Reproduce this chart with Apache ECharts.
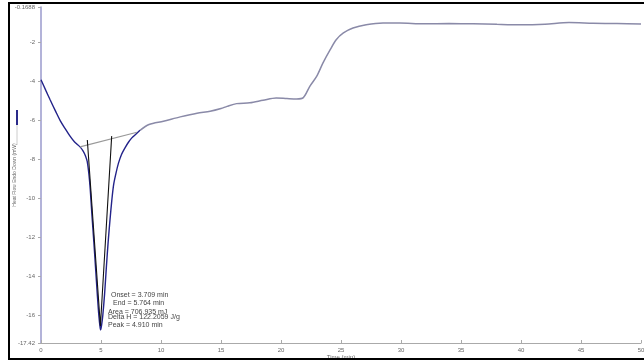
<!DOCTYPE html>
<html>
<head>
<meta charset="utf-8">
<script src="https://cdn.jsdelivr.net/npm/echarts@6/dist/echarts.min.js"></script>
<style>html,body{margin:0;padding:0;background:#fff;}#c{width:644px;height:360px;}</style>
</head>
<body>
<div id="c"></div>
<script>
// Heat flow curve: time (min) and heat flow (mW)
const curveTime = [0, 0.4, 0.75, 1.2, 1.6, 2.0, 2.42, 2.8, 3.25, 3.5, 3.7, 3.85, 4.0, 4.1, 4.25, 4.4, 4.55, 4.7, 4.82, 4.92, 4.97, 5.05, 5.15, 5.3, 5.45, 5.6, 5.75, 5.9, 6.05, 6.25, 6.45, 6.7, 7.0, 7.3, 7.55, 7.9, 8.25];
const curveFlow = [-3.9, -4.45, -4.92, -5.5, -6.0, -6.4, -6.8, -7.1, -7.35, -7.55, -7.8, -8.1, -8.8, -9.5, -10.9, -12.2, -13.6, -15.0, -16.0, -16.6, -16.75, -16.5, -16.0, -14.9, -13.5, -12.2, -11.1, -10.1, -9.3, -8.7, -8.2, -7.75, -7.4, -7.1, -6.9, -6.7, -6.5];
const restTime = [8.25, 9.0, 10.2, 11.6, 13.0, 14.1, 15.0, 15.5, 16.3, 17.4, 18.5, 19.6, 20.5, 21.3, 21.86, 22.4, 22.97, 23.5, 24.1, 24.6, 25.2, 26.0, 27.1, 28.5, 29.9, 31.9, 34, 36, 38, 40, 42, 44, 46, 48, 50];
const restFlow = [-6.5, -6.2, -6.03, -5.81, -5.62, -5.52, -5.38, -5.27, -5.13, -5.09, -4.96, -4.84, -4.87, -4.89, -4.82, -4.24, -3.73, -3.04, -2.36, -1.85, -1.5, -1.25, -1.08, -0.99, -0.99, -1.03, -1.02, -1.03, -1.06, -1.08, -1.05, -0.97, -1.0, -1.02, -1.04];
// Peak integration baseline and tangent lines
const baseTime = [3.25, 8.0];
const baseFlow = [-7.35, -6.6];
const tangentTime = [3.86, 4.95, 5.89];
const tangentFlow = [-7.0, -16.55, -6.8];
// Axis ticks
const yTicks = [-17.42, -16, -14, -12, -10, -8, -6, -4, -2, -0.1688];
const xMin = 0, xMax = 50, xStep = 5;
const yName = 'Heat Flow Endo Down (mW)';
const xName = 'Time (min)';
const annot = ['Onset = 3.709 min', 'End = 5.764 min', 'Area = 706.935 mJ', 'Delta H = 122.2059 J/g', 'Peak = 4.910 min'];

const zip = (a, b) => a.map((v, i) => [v, b[i]]);

const chart = echarts.init(document.getElementById('c'), null, {renderer: 'canvas'});
const FF = 'Liberation Sans, Arial, sans-serif';
const lbl = {fontSize: 6, color: '#666', fontFamily: FF};
const txt = (x, y, s) => ({type: 'text', left: x, top: y, style: {text: s, fontSize: 7, fill: '#444', fontFamily: FF}});
chart.setOption({
  animation: false,
  backgroundColor: '#fff',
  grid: {left: 41, right: 3, top: 7, bottom: 17, containLabel: false, outerBoundsMode: 'none'},
  xAxis: {
    type: 'value', min: xMin, max: xMax, interval: xStep,
    name: xName, nameLocation: 'middle', nameGap: 11, nameMoveOverlap: false,
    nameTextStyle: Object.assign({}, lbl, {fontSize: 6}),
    axisLine: {show: true, lineStyle: {color: '#aaa', width: 1}},
    axisTick: {show: true, inside: true, length: 3, lineStyle: {color: '#aaa'}},
    axisLabel: Object.assign({}, lbl, {margin: 4}),
    splitLine: {show: false}
  },
  yAxis: {
    type: 'value', min: yTicks[0], max: yTicks[yTicks.length - 1],
    name: yName, nameLocation: 'middle', nameGap: 24, nameRotate: 90, nameMoveOverlap: false,
    nameTextStyle: Object.assign({}, lbl, {fontSize: 5}),
    axisLine: {show: true, onZero: false, lineStyle: {color: '#9a9acc', width: 1.5}},
    axisTick: {show: true, length: 3, customValues: yTicks, lineStyle: {color: '#aaa'}},
    axisLabel: Object.assign({}, lbl, {margin: 6, customValues: yTicks,
      formatter: v => { const f = yTicks.find(t => Math.abs(t - v) < 1e-6); return f === undefined ? '' : String(f); }}),
    splitLine: {show: false}
  },
  series: [
    {type: 'line', data: zip(restTime, restFlow), showSymbol: false, smooth: 0.3,
     lineStyle: {color: '#8a8aa8', width: 1.5}, z: 2},
    {type: 'line', data: zip(curveTime, curveFlow), showSymbol: false, smooth: 0.3,
     lineStyle: {color: '#23238a', width: 1.4}, z: 3},
    {type: 'line', data: zip(baseTime, baseFlow), showSymbol: false,
     lineStyle: {color: '#999', width: 1.2}, z: 4},
    {type: 'line', data: zip(tangentTime, tangentFlow), showSymbol: false,
     lineStyle: {color: '#111', width: 1.1}, z: 5}
  ],
  graphic: [
    {type: 'rect', shape: {x: 9, y: 3, width: 640, height: 356}, style: {fill: 'none', stroke: '#000', lineWidth: 2}, z: 100},
    {type: 'line', shape: {x1: 17, y1: 110, x2: 17, y2: 125}, style: {stroke: '#2a2a8a', lineWidth: 2}},
    {type: 'line', shape: {x1: 17, y1: 125, x2: 17, y2: 145}, style: {stroke: '#ccc', lineWidth: 1}},
    txt(111, 292, annot[0]),
    txt(113, 300, annot[1]),
    txt(108, 309, annot[2]),
    txt(108, 314, annot[3]),
    txt(108, 322, annot[4])
  ]
});
</script>
</body>
</html>
